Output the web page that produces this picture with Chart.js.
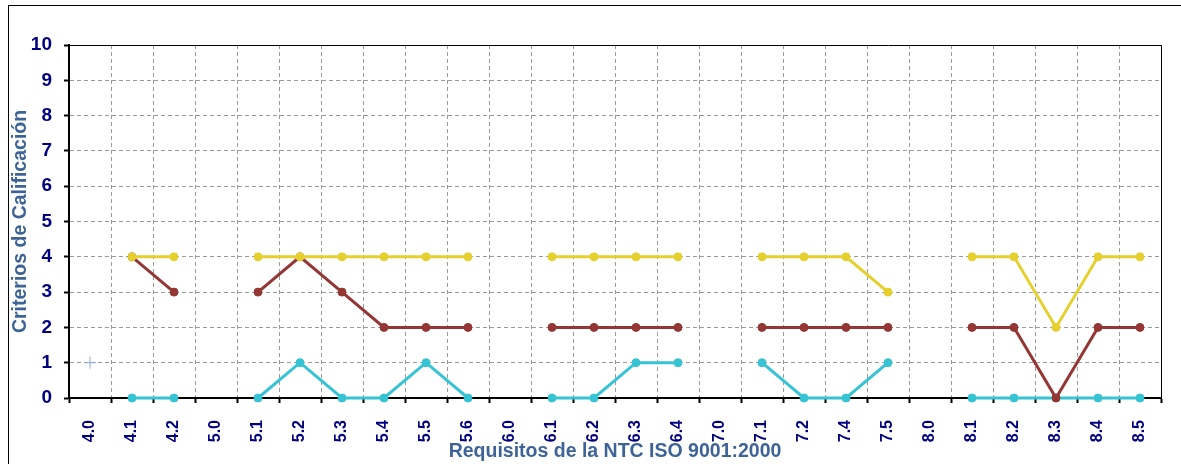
<!DOCTYPE html>
<html>
<head>
<meta charset="utf-8">
<script src="https://cdn.jsdelivr.net/npm/chart.js@4.4.1/dist/chart.umd.min.js"></script>
<style>
  html, body { margin: 0; padding: 0; background: #ffffff; }
  #wrap { position: relative; width: 1181px; height: 464px; overflow: hidden; }
  #frame { position: absolute; left: 8px; top: 5px; width: 1200px; height: 500px;
           border-left: 1px solid #000; border-top: 1px solid #000; }
  #c { position: absolute; left: 0; top: 0; }
</style>
</head>
<body>
<div id="wrap">
  <div id="frame"></div>
  <canvas id="c" width="1181" height="464"></canvas>
</div>
<script>
// Requisitos evaluados (numerales de la norma)
const categories = ['4.0','4.1','4.2','5.0','5.1','5.2','5.3','5.4','5.5','5.6',
                    '6.0','6.1','6.2','6.3','6.4','7.0','7.1','7.2','7.4','7.5',
                    '8.0','8.1','8.2','8.3','8.4','8.5'];

// Calificación por requisito (null = numeral de capítulo, sin calificación)
const serieAmarilla = [null,4,4,null,4,4,4,4,4,4,null,4,4,4,4,null,4,4,4,3,null,4,4,2,4,4];
const serieRoja     = [null,4,3,null,3,4,3,2,2,2,null,2,2,2,2,null,2,2,2,2,null,2,2,0,2,2];
const serieCian     = [null,0,0,null,0,1,0,0,1,0,null,0,0,1,1,null,1,0,0,1,null,0,0,0,0,0];
const serieMarca    = [1,null,null,null,null,null,null,null,null,null,null,null,null,
                       null,null,null,null,null,null,null,null,null,null,null,null,null];

const yTicks = [0,1,2,3,4,5,6,7,8,9,10];

const AMARILLO = '#E5D02E';
const ROJO = '#943634';
const CIAN = '#36C3D3';
const NAVY = '#000080';
const TITULO = '#3E6497';
const FAMILIA = '"Liberation Sans", Arial, sans-serif';

// Marco superior y derecho del área de trazado
const marcoArea = {
  id: 'marcoArea',
  beforeDatasetsDraw(chart) {
    const { ctx, chartArea: a } = chart;
    ctx.save();
    ctx.strokeStyle = '#000';
    ctx.lineWidth = 1;
    ctx.beginPath();
    ctx.moveTo(a.left, a.top + 0.5);
    ctx.lineTo(Math.round(a.right) + 0.5, a.top + 0.5);
    ctx.lineTo(Math.round(a.right) + 0.5, a.bottom);
    ctx.stroke();
    ctx.restore();
  }
};

const lineDataset = (data, color) => ({
  data,
  borderColor: color,
  backgroundColor: color,
  borderWidth: 3,
  pointRadius: 4,
  pointBorderWidth: 1,
  pointBorderColor: color,
  pointBackgroundColor: color,
  pointHoverRadius: 4,
  spanGaps: false,
  tension: 0,
  clip: false
});

new Chart(document.getElementById('c'), {
  type: 'line',
  data: {
    labels: categories,
    datasets: [
      lineDataset(serieAmarilla, AMARILLO),
      lineDataset(serieRoja, ROJO),
      lineDataset(serieCian, CIAN),
      {
        data: serieMarca,
        showLine: false,
        pointStyle: 'cross',
        pointRadius: 6,
        pointBorderWidth: 1,
        borderColor: '#8FA6CE',
        backgroundColor: '#8FA6CE',
        clip: false
      }
    ]
  },
  options: {
    responsive: false,
    animation: false,
    events: [],
    layout: { padding: { left: 0, top: 45, right: 20, bottom: 0 } },
    plugins: { legend: { display: false }, tooltip: { enabled: false } },
    scales: {
      x: {
        offset: true,
        grid: {
          offset: true,
          color: '#9a9a9a',
          lineWidth: 1,
          tickLength: 5,
          tickColor: '#000',
          tickWidth: 2
        },
        border: { color: '#000', width: 2, dash: [4, 3] },
        ticks: {
          autoSkip: false,
          minRotation: 90,
          maxRotation: 90,
          padding: 17,
          color: NAVY,
          font: { family: FAMILIA, size: 16, weight: 'bold' }
        },
        title: {
          display: true,
          text: 'Requisitos de la NTC ISO 9001:2000',
          color: TITULO,
          padding: { top: 0, bottom: 1 },
          font: { family: FAMILIA, size: 19.5, weight: 'bold' }
        },
        afterFit(scale) { scale.height = 66; }
      },
      y: {
        min: 0,
        max: 10,
        afterBuildTicks(scale) { scale.ticks = yTicks.map(v => ({ value: v })); },
        grid: {
          color: ctx => (ctx.tick && (ctx.tick.value === 0 || ctx.tick.value === 10)) ? 'rgba(0,0,0,0)' : '#9a9a9a',
          lineWidth: 1,
          tickLength: 5,
          tickColor: '#000',
          tickWidth: 2
        },
        border: { color: '#000', width: 2, dash: [4, 3] },
        ticks: {
          padding: 12,
          color: NAVY,
          font: { family: FAMILIA, size: 19, weight: 'bold' }
        },
        title: {
          display: true,
          text: 'Criterios de Calificación',
          color: TITULO,
          padding: { top: 9, bottom: 0 },
          font: { family: FAMILIA, size: 19.5, weight: 'bold' }
        },
        afterFit(scale) { scale.width = 69; }
      }
    }
  },
  plugins: [marcoArea]
});
</script>
</body>
</html>
